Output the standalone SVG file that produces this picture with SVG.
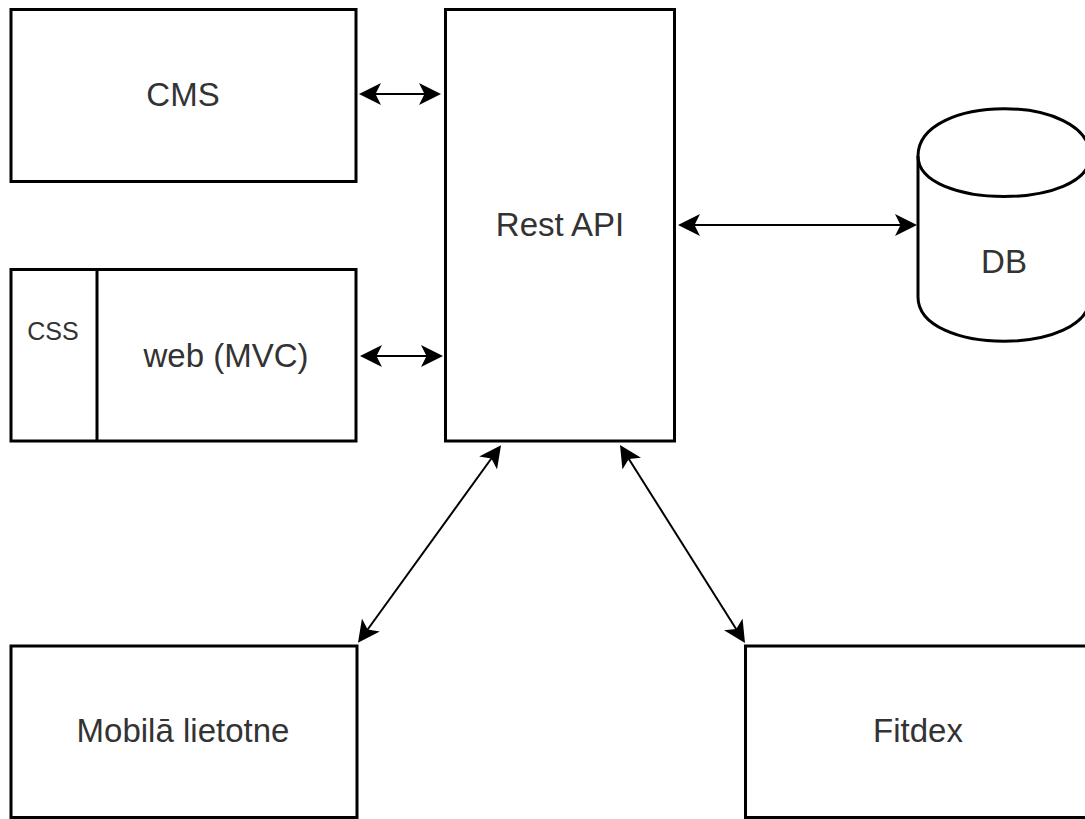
<svg xmlns="http://www.w3.org/2000/svg" width="1085" height="819" viewBox="0 0 1085 819">
  <style>
    .box { fill: #ffffff; stroke: #000000; stroke-width: 3; }
    .label { font-family: "Liberation Sans", Arial, sans-serif; font-size: 33px; fill: #333333; text-anchor: middle; }
    .small { font-size: 25px; }
    .link { fill: none; stroke: #000000; stroke-width: 2; marker-start: url(#head); marker-end: url(#head); }
  </style>
  <defs>
    <marker id="head" viewBox="0 0 22 22" refX="16" refY="11" markerWidth="22" markerHeight="22" markerUnits="userSpaceOnUse" orient="auto-start-reverse">
      <path d="M0,0 L22,11 L0,22 L5.5,11 Z" fill="#000000"/>
    </marker>
  </defs>
  <rect width="1085" height="819" fill="#ffffff"/>

  <g id="cms">
    <rect class="box" x="11" y="9.5" width="345" height="172"/>
    <text class="label" x="183" y="106">CMS</text>
  </g>

  <g id="web">
    <rect class="box" x="11" y="269.5" width="345" height="171.5"/>
    <line x1="97" y1="269.5" x2="97" y2="441" stroke="#000000" stroke-width="3"/>
    <text class="label small" x="53" y="340">CSS</text>
    <text class="label" x="226" y="367">web (MVC)</text>
  </g>

  <g id="rest-api">
    <rect class="box" x="445.5" y="9.5" width="229" height="431.5"/>
    <text class="label" x="560" y="236">Rest API</text>
  </g>

  <g id="db">
    <path class="box" d="M918,156 C918,93 1090,93 1090,156 L1090,297 C1090,356 918,356 918,297 Z"/>
    <path d="M918,156 C918,210 1090,210 1090,156" fill="none" stroke="#000000" stroke-width="3"/>
    <text class="label" x="1004" y="273">DB</text>
  </g>

  <g id="mobile">
    <rect class="box" x="11" y="646" width="346" height="171.5"/>
    <text class="label" x="183" y="742">Mobilā lietotne</text>
  </g>

  <g id="fitdex">
    <rect class="box" x="745.5" y="646" width="346" height="171.5"/>
    <text class="label" x="918" y="742">Fitdex</text>
  </g>

  <g id="connectors">
    <line class="link" x1="365" y1="94" x2="435" y2="94"/>
    <line class="link" x1="366" y1="356" x2="437" y2="356"/>
    <line class="link" x1="684" y1="225" x2="911" y2="225"/>
    <line class="link" x1="497.5" y1="450" x2="361.5" y2="638"/>
    <line class="link" x1="623.2" y1="450" x2="741.8" y2="638"/>
  </g>
</svg>
